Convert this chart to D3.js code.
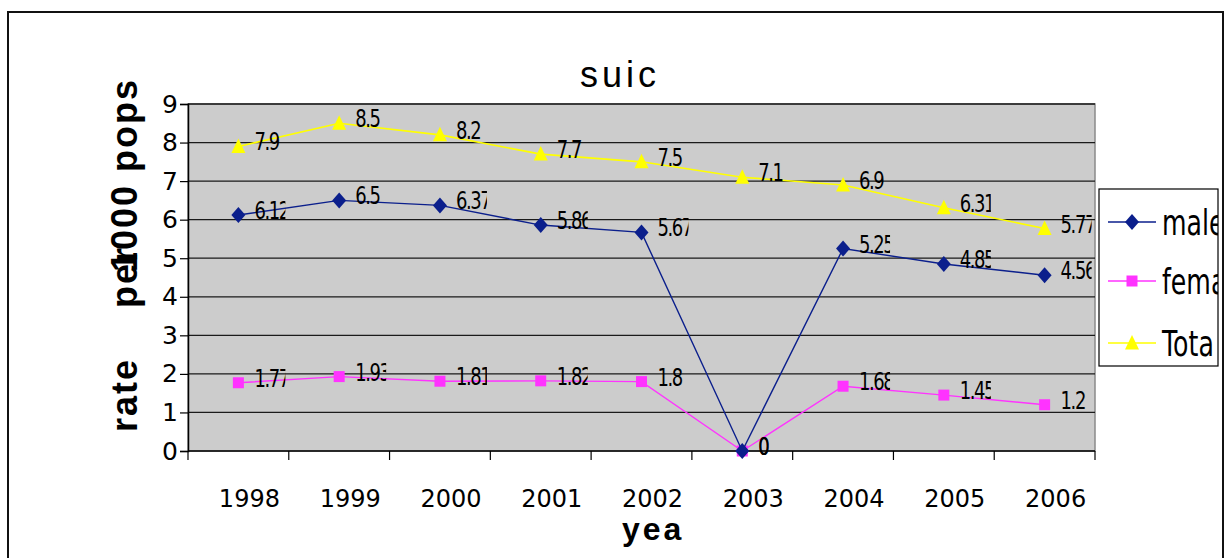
<!DOCTYPE html>
<html>
<head>
<meta charset="utf-8">
<script src="https://cdn.jsdelivr.net/npm/d3@7"></script>
<style>
  body { margin: 0; background: #fff; }
  svg { display: block; }
</style>
</head>
<body>
<div id="chart"></div>
<script>
const WIDTH = 1231;
const HEIGHT = 558;

const years = ["1998", "1999", "2000", "2001", "2002", "2003", "2004", "2005", "2006"];
const male = [6.12, 6.5, 6.37, 5.86, 5.67, 0, 5.25, 4.85, 4.56];
const female = [1.77, 1.93, 1.81, 1.82, 1.8, 0, 1.68, 1.45, 1.2];
const total = [7.9, 8.5, 8.2, 7.7, 7.5, 7.1, 6.9, 6.31, 5.77];
const yTicks = [0, 1, 2, 3, 4, 5, 6, 7, 8, 9];
const seriesNames = ["male", "fema", "Tota"];

const SANS = "'Liberation Sans', Arial, sans-serif";
const DEJAVU = "'DejaVu Sans', sans-serif";

const plot = { left: 188, right: 1095, top: 104, bottom: 451 };

const svg = d3.select("#chart")
  .append("svg")
  .attr("width", WIDTH)
  .attr("height", HEIGHT);

const defs = svg.append("defs");

// outer chart frame (bottom edge falls outside the picture)
svg.append("rect")
  .attr("x", 8).attr("y", 12)
  .attr("width", 1215).attr("height", 600)
  .attr("fill", "none")
  .attr("stroke", "#111")
  .attr("stroke-width", 2);

const x = d3.scaleBand()
  .domain(years)
  .range([plot.left, plot.right])
  .padding(0);

const y = d3.scaleLinear()
  .domain([0, 9])
  .range([plot.bottom, plot.top]);

const cx = d => x(d) + x.bandwidth() / 2;

// plot area
svg.append("rect")
  .attr("x", plot.left).attr("y", plot.top)
  .attr("width", plot.right - plot.left)
  .attr("height", plot.bottom - plot.top)
  .attr("fill", "#cccccc")
  .attr("stroke", "#8a8a8a")
  .attr("stroke-width", 1.5);

// gridlines
svg.append("g")
  .selectAll("line")
  .data(yTicks.filter(t => t > 0))
  .enter()
  .append("line")
  .attr("x1", plot.left).attr("x2", plot.right)
  .attr("y1", d => y(d)).attr("y2", d => y(d))
  .attr("stroke", "#1a1a1a")
  .attr("stroke-width", 1.3);

// y axis
const yAxis = svg.append("g")
  .attr("transform", `translate(${plot.left},0)`)
  .call(d3.axisLeft(y).tickValues(yTicks).tickSize(8).tickPadding(2).tickFormat(d3.format("d")));
yAxis.select(".domain").attr("stroke", "#000").attr("stroke-width", 1.5);
yAxis.selectAll(".tick line").attr("stroke", "#000").attr("stroke-width", 1.2);
yAxis.selectAll("text")
  .style("font-family", DEJAVU)
  .style("font-size", "25px")
  .attr("fill", "#000");

// x axis: labels at band centres, ticks at band edges like the original
const xAxis = svg.append("g")
  .attr("transform", `translate(0,${plot.bottom})`)
  .call(d3.axisBottom(x).tickSize(0).tickPadding(0));
xAxis.select(".domain").remove();
xAxis.selectAll("text")
  .attr("dx", 11)
  .attr("y", 56)
  .attr("dy", 0)
  .style("font-family", DEJAVU)
  .style("font-size", "24px")
  .attr("fill", "#000");

svg.append("line")
  .attr("x1", plot.left).attr("x2", plot.right)
  .attr("y1", plot.bottom).attr("y2", plot.bottom)
  .attr("stroke", "#000").attr("stroke-width", 1.5);

svg.append("g")
  .selectAll("line")
  .data(d3.range(years.length + 1))
  .enter()
  .append("line")
  .attr("x1", i => plot.left + i * x.bandwidth())
  .attr("x2", i => plot.left + i * x.bandwidth())
  .attr("y1", plot.bottom)
  .attr("y2", plot.bottom + 9)
  .attr("stroke", "#000")
  .attr("stroke-width", 1.2);

// marker shapes
const markers = {
  diamond: "M0,-8L7,0L0,8L-7,0Z",
  square: "M-5.5,-5.5H5.5V5.5H-5.5Z",
  triangle: "M0,-8L7,6.5H-7Z"
};

const series = [
  { name: seriesNames[0], values: male, color: "#0b1f8c", marker: markers.diamond, width: 1.4 },
  { name: seriesNames[1], values: female, color: "#ff33ff", marker: markers.square, width: 1.4 },
  { name: seriesNames[2], values: total, color: "#ffff00", marker: markers.triangle, width: 1.6 }
];

const line = d3.line()
  .x((d, i) => cx(years[i]))
  .y(d => y(d));

// draw back to front: Total, female, male
series.slice().reverse().forEach(s => {
  svg.append("path")
    .datum(s.values)
    .attr("d", line)
    .attr("fill", "none")
    .attr("stroke", s.color)
    .attr("stroke-width", s.width);

  svg.append("g")
    .selectAll("path")
    .data(s.values)
    .enter()
    .append("path")
    .attr("d", s.marker)
    .attr("transform", (d, i) => `translate(${cx(years[i])},${y(d)})`)
    .attr("fill", s.color);
});

// data labels: squeezed and clipped to a fixed box like the source
let clipId = 0;
series.forEach(s => {
  s.values.forEach((v, i) => {
    const lx = cx(years[i]) + 16;
    const ly = y(v) + 4;
    const id = "lbl" + (clipId++);
    defs.append("clipPath").attr("id", id)
      .append("rect")
      .attr("x", lx - 2).attr("y", ly - 25)
      .attr("width", 33).attr("height", 34);
    svg.append("g")
      .attr("clip-path", `url(#${id})`)
      .append("text")
      .attr("transform", `translate(${lx},${ly}) scale(0.72,1)`)
      .style("font-family", DEJAVU)
      .style("font-size", "25px")
      .style("letter-spacing", "-2px")
      .attr("fill", "#000")
      .text(String(v));
  });
});

// legend
const legend = { x: 1099, y: 189, w: 119, h: 177 };
defs.append("clipPath").attr("id", "legendClip")
  .append("rect")
  .attr("x", legend.x).attr("y", legend.y)
  .attr("width", legend.w).attr("height", legend.h);

svg.append("rect")
  .attr("x", legend.x).attr("y", legend.y)
  .attr("width", legend.w).attr("height", legend.h)
  .attr("fill", "#fff")
  .attr("stroke", "#000")
  .attr("stroke-width", 1.2);

const legendY = [222, 281, 343];
const legendItems = svg.append("g")
  .attr("clip-path", "url(#legendClip)")
  .selectAll("g")
  .data(series)
  .enter()
  .append("g")
  .attr("transform", (d, i) => `translate(0,${legendY[i]})`);

legendItems.append("line")
  .attr("x1", 1108).attr("x2", 1156)
  .attr("y1", 0).attr("y2", 0)
  .attr("stroke", d => d.color)
  .attr("stroke-width", 1.6);

legendItems.append("path")
  .attr("d", d => d.marker)
  .attr("transform", "translate(1132,0)")
  .attr("fill", d => d.color);

legendItems.append("text")
  .attr("transform", "translate(1162,13) scale(0.7,1)")
  .style("font-family", DEJAVU)
  .style("font-size", "36px")
  .attr("fill", "#000")
  .text(d => d.name);

// title
svg.append("text")
  .attr("x", 620)
  .attr("y", 87)
  .attr("text-anchor", "middle")
  .style("font-family", SANS)
  .style("font-size", "36px")
  .style("letter-spacing", "4px")
  .text("suic");

// x axis title
svg.append("text")
  .attr("x", 622)
  .attr("y", 540)
  .style("font-family", SANS)
  .style("font-weight", "bold")
  .style("font-size", "32px")
  .style("letter-spacing", "3px")
  .text("yea");

// y axis title: the source shows overlapping runs
const yTitle = [
  { text: "rate", y: 432, anchor: "start" },
  { text: "per", y: 308, anchor: "start" },
  { text: "1000 pops", y: 78, anchor: "end" }
];
svg.append("g")
  .selectAll("text")
  .data(yTitle)
  .enter()
  .append("text")
  .attr("transform", d => `translate(137,${d.y}) rotate(-90)`)
  .attr("text-anchor", d => d.anchor)
  .style("font-family", SANS)
  .style("font-weight", "bold")
  .style("font-size", "36px")
  .style("letter-spacing", "2px")
  .text(d => d.text);
</script>
</body>
</html>
